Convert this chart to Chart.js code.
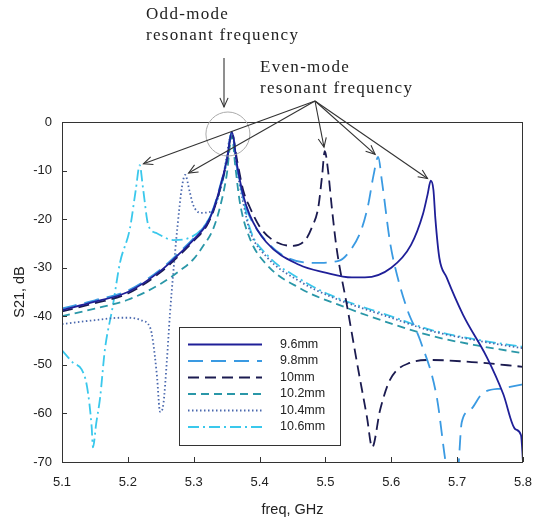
<!DOCTYPE html>
<html lang="en">
<head>
    <meta charset="UTF-8">
    <title>S21 x freq</title>
    <script src="https://cdn.jsdelivr.net/npm/chart.js"></script>
    <style>
        html, body { margin: 0; padding: 0; background: #fff; }
        .grafico { width: 533px; height: 523px; }
    </style>
</head>
<body>
    <div class="grafico">
        <canvas id="myChart" width="533" height="523"></canvas>
    </div>
</body>
</html>
<script>
// curvas (freq em GHz, S21 em dB)
const nomes = ['9.6mm', '9.8mm', '10mm', '10.2mm', '10.4mm', '10.6mm']

const freq96 = [5.10, 5.15, 5.20, 5.25, 5.28, 5.30, 5.32, 5.33, 5.34, 5.35, 5.358, 5.366, 5.375, 5.385, 5.41, 5.46, 5.50, 5.54, 5.56, 5.60, 5.63, 5.648, 5.655, 5.66, 5.664, 5.667, 5.673, 5.684, 5.709, 5.745, 5.77, 5.788, 5.797, 5.80]
const s96 = [-38.7, -37.0, -35.0, -30.6, -26.9, -24.2, -21.0, -18.0, -13.5, -8.0, -2.1, -9.0, -15.0, -19.1, -24.7, -29.4, -31.0, -32.0, -32.0, -30.0, -25.3, -19.0, -15.0, -12.1, -14.0, -20.0, -28.0, -32.0, -39.7, -48.4, -56.0, -63.2, -64.5, -70.0]

const freq98 = [5.10, 5.15, 5.20, 5.25, 5.28, 5.30, 5.32, 5.33, 5.34, 5.35, 5.358, 5.366, 5.375, 5.385, 5.41, 5.44, 5.48, 5.52, 5.54, 5.555, 5.565, 5.573, 5.58, 5.586, 5.598, 5.606, 5.624, 5.644, 5.669, 5.682, 5.69, 5.70, 5.707, 5.72, 5.739, 5.77, 5.80]
const s98 = [-38.4, -36.7, -34.7, -30.3, -26.6, -23.9, -20.7, -17.7, -13.2, -7.8, -2.0, -9.5, -15.5, -19.5, -24.5, -27.8, -29.0, -28.6, -26.0, -22.0, -17.0, -11.0, -7.2, -12.4, -24.7, -30.0, -38.5, -45.0, -56.6, -69.6, -76.0, -74.0, -61.8, -59.3, -55.8, -54.8, -54.0]

const freq10 = [5.10, 5.15, 5.20, 5.25, 5.28, 5.30, 5.32, 5.33, 5.34, 5.35, 5.358, 5.366, 5.375, 5.385, 5.40, 5.42, 5.45, 5.47, 5.48, 5.489, 5.495, 5.499, 5.504, 5.51, 5.517, 5.533, 5.548, 5.563, 5.571, 5.583, 5.598, 5.628, 5.66, 5.73, 5.80]
const s10 = [-39.0, -37.3, -35.3, -30.9, -27.2, -24.5, -21.3, -18.3, -13.8, -8.3, -2.3, -8.0, -14.0, -17.5, -21.5, -24.3, -25.5, -24.2, -21.5, -17.7, -11.0, -6.0, -10.0, -18.0, -26.0, -38.0, -49.6, -60.7, -67.0, -59.3, -53.1, -49.6, -49.0, -49.5, -50.4]

const freq102 = [5.10, 5.15, 5.20, 5.25, 5.28, 5.30, 5.314, 5.329, 5.34, 5.35, 5.358, 5.363, 5.37, 5.385, 5.411, 5.461, 5.533, 5.60, 5.66, 5.73, 5.80]
const s102 = [-40.0, -38.4, -36.6, -33.3, -30.5, -28.2, -25.6, -22.2, -17.5, -11.0, -2.8, -8.9, -16.5, -23.9, -29.4, -34.2, -38.3, -41.5, -44.0, -46.0, -47.6]

const freq104 = [5.10, 5.15, 5.19, 5.20, 5.22, 5.234, 5.238, 5.244, 5.249, 5.254, 5.259, 5.264, 5.269, 5.275, 5.282, 5.287, 5.294, 5.299, 5.31, 5.325, 5.335, 5.345, 5.358, 5.366, 5.375, 5.385, 5.411, 5.461, 5.507, 5.60, 5.66, 5.73, 5.80]
const s104 = [-41.6, -40.8, -40.3, -40.3, -40.8, -42.4, -45.0, -52.0, -59.7, -58.0, -49.6, -39.4, -31.0, -22.0, -13.5, -10.9, -14.4, -17.0, -18.7, -18.5, -16.4, -11.0, -2.3, -10.0, -16.5, -22.3, -27.8, -32.8, -35.9, -40.3, -43.0, -45.0, -46.6]

const freq106 = [5.10, 5.117, 5.13, 5.138, 5.145, 5.147, 5.152, 5.158, 5.165, 5.177, 5.188, 5.203, 5.212, 5.218, 5.223, 5.231, 5.244, 5.269, 5.29, 5.314, 5.33, 5.34, 5.35, 5.358, 5.366, 5.375, 5.385, 5.411, 5.461, 5.507, 5.60, 5.66, 5.73, 5.80]
const s106 = [-47.0, -49.6, -51.0, -54.5, -62.7, -67.0, -62.0, -56.6, -47.0, -38.0, -29.0, -22.0, -14.0, -8.9, -13.6, -21.2, -22.9, -24.3, -24.0, -21.8, -18.0, -14.0, -8.5, -2.0, -9.5, -15.5, -21.8, -27.3, -32.3, -35.6, -40.0, -42.8, -44.8, -46.3]

const ticksX = [5.1, 5.2, 5.3, 5.4, 5.5, 5.6, 5.7, 5.8]
const ticksY = [0, -10, -20, -30, -40, -50, -60, -70]

// quais curvas recebem seta de "Even-mode"
const comSeta = ['9.6mm', '9.8mm', '10mm', '10.4mm', '10.6mm']
const freqOdd = 5.358

function pontos(f, s){
    return f.map((x, i) => ({x: x, y: s[i]}))
}

function serie(nome, f, s, cor, traco){
    return {
        label: nome,
        data: pontos(f, s),
        borderColor: cor,
        backgroundColor: cor,
        borderWidth: 1.8,
        borderDash: traco,
        pointRadius: 0,
        fill: false,
        cubicInterpolationMode: 'monotone'
    }
}

const fonteEixo = "'Liberation Sans', Arial, sans-serif"

function seta(ctx, x1, y1, x2, y2){
    ctx.beginPath()
    ctx.moveTo(x1, y1)
    ctx.lineTo(x2, y2)
    ctx.stroke()
    var ang = Math.atan2(y2 - y1, x2 - x1)
    var L = 10, a = 0.42
    ctx.beginPath()
    ctx.moveTo(x2 - L * Math.cos(ang - a), y2 - L * Math.sin(ang - a))
    ctx.lineTo(x2, y2)
    ctx.lineTo(x2 - L * Math.cos(ang + a), y2 - L * Math.sin(ang + a))
    ctx.stroke()
}

const moldura = {
    id: 'moldura',
    afterDatasetsDraw(chart){
        const ctx = chart.ctx
        const a = chart.chartArea
        const sx = chart.scales.x, sy = chart.scales.y
        ctx.save()
        ctx.strokeStyle = '#333'
        ctx.lineWidth = 1
        ctx.setLineDash([])
        ctx.strokeRect(Math.round(a.left) + 0.5, Math.round(a.top) + 0.5, Math.round(a.right - a.left) - 1, Math.round(a.bottom - a.top))
        ctx.beginPath()
        for (const t of ticksX){
            var px = Math.round(sx.getPixelForValue(t)) + 0.5
            ctx.moveTo(px, a.bottom)
            ctx.lineTo(px, a.bottom - 5)
        }
        for (const t of ticksY){
            var py = Math.round(sy.getPixelForValue(t)) + 0.5
            ctx.moveTo(a.left, py)
            ctx.lineTo(a.left + 5, py)
        }
        ctx.stroke()
        ctx.restore()
    }
}

const legenda = {
    id: 'legenda',
    afterDatasetsDraw(chart){
        const ctx = chart.ctx
        const a = chart.chartArea
        var x0 = a.left + 117, y0 = a.top + 205
        var w = 161, h = 118
        ctx.save()
        ctx.fillStyle = '#fff'
        ctx.fillRect(x0, y0, w, h)
        ctx.strokeStyle = '#333'
        ctx.lineWidth = 1
        ctx.setLineDash([])
        ctx.strokeRect(x0 + 0.5, y0 + 0.5, w, h)
        ctx.font = "12.5px " + fonteEixo
        ctx.textBaseline = 'middle'
        chart.data.datasets.forEach((d, i) => {
            var y = y0 + 17.5 + i * 16.5
            ctx.strokeStyle = d.borderColor
            ctx.lineWidth = d.borderWidth
            ctx.setLineDash(d.borderDash || [])
            ctx.beginPath()
            ctx.moveTo(x0 + 9, y)
            ctx.lineTo(x0 + 83, y)
            ctx.stroke()
            ctx.fillStyle = '#222'
            ctx.fillText(d.label, x0 + 101, y)
        })
        ctx.restore()
    }
}

const anotacoes = {
    id: 'anotacoes',
    afterDraw(chart){
        const ctx = chart.ctx
        const sx = chart.scales.x, sy = chart.scales.y
        ctx.save()
        ctx.fillStyle = '#222'
        ctx.font = "17px 'Liberation Serif', 'DejaVu Serif', serif"
        ctx.letterSpacing = '1.3px'
        ctx.textBaseline = 'alphabetic'
        ctx.fillText('Odd-mode', 146, 19)
        ctx.fillText('resonant frequency', 146, 40)
        ctx.fillText('Even-mode', 260, 72)
        ctx.fillText('resonant frequency', 260, 93)

        // circulo no pico comum
        ctx.strokeStyle = '#aaa'
        ctx.lineWidth = 1
        ctx.beginPath()
        ctx.arc(sx.getPixelForValue(freqOdd) - 4, sy.getPixelForValue(0) + 12, 22, 0, Math.PI * 2)
        ctx.stroke()

        ctx.strokeStyle = '#333'
        ctx.lineWidth = 1.1
        seta(ctx, 224, 58, 224, 107)

        // setas até o pico de modo par de cada curva
        var ox = 315, oy = 101
        chart.data.datasets.forEach(d => {
            if (!comSeta.includes(d.label)) return
            var melhor = null
            for (const p of d.data){
                if (Math.abs(p.x - freqOdd) < 0.035) continue
                if (!melhor || p.y > melhor.y) melhor = p
            }
            var px = sx.getPixelForValue(melhor.x), py = sy.getPixelForValue(melhor.y)
            var dx = px - ox, dy = py - oy
            var dist = Math.sqrt(dx * dx + dy * dy)
            var k = (dist - 4) / dist
            seta(ctx, ox, oy, ox + dx * k, oy + dy * k)
        })
        ctx.restore()
    }
}

const ctx = document.getElementById('myChart')

const grafico = new Chart(ctx, {
    type: 'line',
    data: {
        datasets: [
            serie(nomes[0], freq96, s96, '#1f1f98', []),
            serie(nomes[1], freq98, s98, '#3a9ae2', [15, 8]),
            serie(nomes[2], freq10, s10, '#1b1b50', [11, 6]),
            serie(nomes[3], freq102, s102, '#2a97a8', [8, 5]),
            serie(nomes[4], freq104, s104, '#4a68ae', [1.5, 2.5]),
            serie(nomes[5], freq106, s106, '#3ac8ec', [11, 4, 2, 4])
        ]
    },
    options: {
        responsive: false,
        animation: false,
        devicePixelRatio: 1,
        events: [],
        layout: { padding: { left: 0, right: 10, top: 122, bottom: 0 } },
        plugins: {
            legend: { display: false },
            tooltip: { enabled: false }
        },
        scales: {
            x: {
                type: 'linear',
                min: 5.1,
                max: 5.8,
                border: { display: false },
                grid: { display: false, drawTicks: false },
                afterBuildTicks: s => { s.ticks = ticksX.map(v => ({value: v})) },
                ticks: {
                    padding: 13,
                    color: '#222',
                    maxRotation: 0,
                    font: { family: fonteEixo, size: 13 },
                    callback: v => Number(v).toFixed(1)
                },
                title: {
                    display: true,
                    text: 'freq, GHz',
                    color: '#222',
                    font: { family: fonteEixo, size: 14.5 },
                    padding: { top: 0, bottom: 4 }
                },
                afterFit: s => { s.height = 61; s.paddingLeft = 0; s.paddingRight = 0 }
            },
            y: {
                type: 'linear',
                min: -70,
                max: 0,
                border: { display: false },
                grid: { display: false, drawTicks: false },
                afterBuildTicks: s => { s.ticks = ticksY.map(v => ({value: v})) },
                ticks: {
                    padding: 10,
                    color: '#222',
                    font: { family: fonteEixo, size: 13 }
                },
                title: {
                    display: true,
                    text: 'S21, dB',
                    color: '#222',
                    font: { family: fonteEixo, size: 14.5 },
                    padding: { top: 11, bottom: 0 }
                },
                afterFit: s => { s.width = 62; s.paddingTop = 0; s.paddingBottom = 0 }
            }
        }
    },
    plugins: [moldura, legenda, anotacoes]
})
</script>
